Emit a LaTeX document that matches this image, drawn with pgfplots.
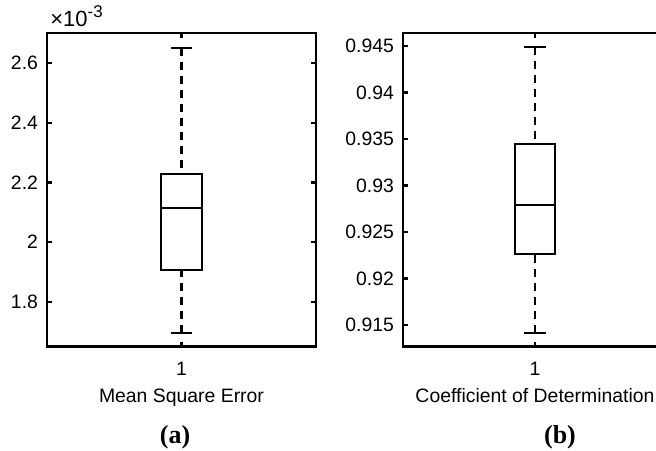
\documentclass[border=0pt]{standalone}
\usepackage{pgfplots}
\pgfplotsset{compat=1.18}
\usepgfplotslibrary{statistics}
\usepackage{fontspec}
\setmainfont{Liberation Sans}
\newfontfamily\capfont{Liberation Serif}
\pgfplotsset{
  mybox/.style={
    scale only axis,
    anchor=south west,
    clip=false,
    xmin=0.5, xmax=1.5,
    xtick={1}, xticklabels={1},
    tick align=inside,
    major tick length=2.5pt,
    axis line style={line width=1.3pt},
    every tick/.style={black, line width=1.2pt},
    tick label style={font=\fontsize{9.7}{11}\selectfont},
    label style={font=\fontsize{9.7}{11}\selectfont},
    /pgf/number format/assume math mode=true,
    xticklabel style={yshift=-4pt},
    xlabel style={yshift=0pt},
    yticklabel style={xshift=-1pt},
    boxplot/draw direction=y,
    boxplot/every box/.style={line width=1.1pt},
    boxplot/every median/.style={line width=1.1pt},
    boxplot/draw/lower whisker/.code={%
      \draw[line width=1.1pt, dash pattern=on 4pt off 3pt]
        (boxplot cs:\pgfplotsboxplotvalue{lower whisker})
        -- (boxplot cs:\pgfplotsboxplotvalue{lower quartile});
      \draw[line width=1.1pt]
        (boxplot whisker cs:\pgfplotsboxplotvalue{lower whisker},0)
        -- (boxplot whisker cs:\pgfplotsboxplotvalue{lower whisker},1);
    },
    boxplot/draw/upper whisker/.code={%
      \draw[line width=1.1pt, dash pattern=on 4pt off 3pt]
        (boxplot cs:\pgfplotsboxplotvalue{upper whisker})
        -- (boxplot cs:\pgfplotsboxplotvalue{upper quartile});
      \draw[line width=1.1pt]
        (boxplot whisker cs:\pgfplotsboxplotvalue{upper whisker},0)
        -- (boxplot whisker cs:\pgfplotsboxplotvalue{upper whisker},1);
    },
  }
}
\begin{document}
\begin{tikzpicture}
\path[use as bounding box, clip] (0,0) rectangle (328pt,225pt);
\begin{axis}[mybox,
  at={(23.5pt,51.65pt)},
  width=134.5pt, height=156.8pt,
  ymin=1.65, ymax=2.70,
  ytick={1.8,2.0,2.2,2.4,2.6},
  yticklabels={1.8,2,2.2,2.4,2.6},
  xlabel={Mean Square Error},
]
\addplot[black, line width=1.1pt, solid,
  boxplot prepared={
    median=2.115, upper quartile=2.228, lower quartile=1.907,
    upper whisker=2.651, lower whisker=1.696,
    draw position=1, box extend=0.15, whisker extend=0.08}]
  coordinates {};
\node[anchor=south west, inner sep=0pt, font=\fontsize{11}{13}\selectfont]
  at (rel axis cs:0,1) [xshift=1.5pt, yshift=3pt] {×10\raisebox{0.42em}{\fontsize{8.5}{10}\selectfont -3}};
\end{axis}
\begin{axis}[mybox,
  at={(201.5pt,51.65pt)},
  width=132pt, height=156.8pt,
  ymin=0.91267, ymax=0.9464,
  ytick={0.915,0.92,0.925,0.93,0.935,0.94,0.945},
  yticklabels={0.915,0.92,0.925,0.93,0.935,0.94,0.945},
  xlabel={Coefficient of Determination},
]
\addplot[black, line width=1.1pt, solid,
  boxplot prepared={
    median=0.92792, upper quartile=0.93446, lower quartile=0.9226,
    upper whisker=0.94493, lower whisker=0.91414,
    draw position=1, box extend=0.15, whisker extend=0.08}]
  coordinates {};
\end{axis}
\node[font=\capfont\bfseries\fontsize{13}{15}\selectfont] at (87.5pt,6.5pt) {(a)};
\node[font=\capfont\bfseries\fontsize{13}{15}\selectfont] at (280pt,6.5pt) {(b)};
\end{tikzpicture}
\end{document}
